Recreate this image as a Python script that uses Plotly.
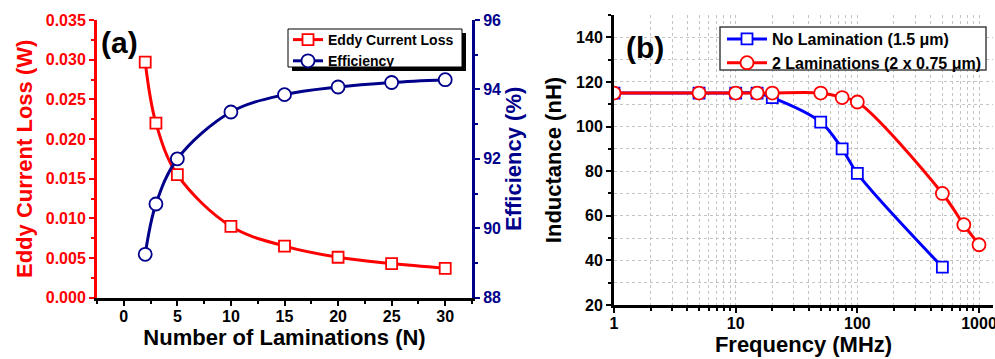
import plotly.graph_objects as go

# ---------------- data ----------------
laminations = [2, 3, 5, 10, 15, 20, 25, 30]
eddy_loss = [0.0297, 0.0220, 0.0155, 0.0090, 0.0065, 0.0051, 0.0043, 0.0037]
efficiency = [89.25, 90.7, 92.0, 93.35, 93.85, 94.07, 94.2, 94.28]

freq_nolam = [1, 5, 10, 15, 20, 50, 75, 100, 500]
ind_nolam = [115, 115, 115, 115, 113, 102, 90, 79, 37]
freq_2lam = [1, 5, 10, 15, 20, 50, 75, 100, 500, 750, 1000]
ind_2lam = [115, 115, 115, 115, 115, 115, 113, 111, 70, 56, 47]

W, H = 995, 359
RED = "#ff0000"
NAVY = "#00008b"
BLUE = "#0000ff"
FONT = "Liberation Sans, Arial, sans-serif"


def px(x):
    return x / W


def py(y):
    return (H - y) / H


fig = go.Figure()

fig.add_trace(go.Scatter(
    x=laminations, y=eddy_loss, name="Eddy Current Loss",
    mode="lines+markers", line=dict(color=RED, width=3, shape="spline"),
    marker=dict(symbol="square", size=11, color="white", line=dict(color=RED, width=1.8)),
    xaxis="x", yaxis="y", legend="legend"))
fig.add_trace(go.Scatter(
    x=laminations, y=efficiency, name="Efficiency",
    mode="lines+markers", line=dict(color=NAVY, width=3, shape="spline"),
    marker=dict(symbol="circle", size=13, color="white", line=dict(color=NAVY, width=1.8)),
    xaxis="x", yaxis="y2", legend="legend"))

fig.add_trace(go.Scatter(
    x=freq_nolam, y=ind_nolam, name="No Lamination (1.5 \u03bcm)",
    mode="lines+markers", line=dict(color=BLUE, width=3, shape="spline"),
    marker=dict(symbol="square", size=11, color="white", line=dict(color=BLUE, width=1.8)),
    xaxis="x2", yaxis="y3", legend="legend2"))
fig.add_trace(go.Scatter(
    x=freq_2lam, y=ind_2lam, name="2 Laminations (2 x 0.75 \u03bcm)",
    mode="lines+markers", line=dict(color=RED, width=3, shape="spline"),
    marker=dict(symbol="circle", size=13, color="white", line=dict(color=RED, width=1.8)),
    xaxis="x2", yaxis="y3", legend="legend2"))

dom_xa = [px(97), px(472)]
dom_ya = [py(297.7), py(20)]
dom_xb = [px(614), px(993)]
dom_yb = [py(305), py(15)]

tickfont = dict(family=FONT, size=16, weight="bold")
titlefont = dict(family=FONT, size=22, weight="bold")
GRID = dict(showgrid=True, gridcolor="#c4c4c4", griddash="dot", gridwidth=1)
TL = 5

fig.update_layout(
    width=W, height=H, margin=dict(l=0, r=0, t=0, b=0, autoexpand=False),
    paper_bgcolor="white", plot_bgcolor="white",
    font=dict(family=FONT, color="black"),
    xaxis=dict(domain=dom_xa, anchor="y", range=[-2.5, 32.5], dtick=5, tick0=0,
               showgrid=False, zeroline=False, showline=True, linecolor="black", linewidth=3,
               ticks="outside", ticklen=TL, tickwidth=2, tickcolor="black", ticklabelstandoff=-3,
               minor=dict(dtick=2.5, tick0=0, ticks="outside", ticklen=3, tickwidth=2, tickcolor="black"),
               tickfont=dict(tickfont, color="black"),
               title=dict(text="Number of Laminations (N)", font=dict(titlefont, color="black"), standoff=0)),
    yaxis=dict(domain=dom_ya, anchor="x", range=[0, 0.035], dtick=0.005, tickformat=".3f",
               showgrid=False, zeroline=False, showline=True, linecolor=RED, linewidth=3,
               ticks="outside", ticklen=TL, tickwidth=2, tickcolor=RED,
               minor=dict(dtick=0.0025, ticks="outside", ticklen=3, tickwidth=2, tickcolor=RED),
               tickfont=dict(tickfont, color=RED),
               title=dict(text="Eddy Current Loss (W)", font=dict(titlefont, color=RED), standoff=8)),
    yaxis2=dict(domain=dom_ya, anchor="x", overlaying="y", side="right", range=[88, 96], dtick=2,
                showgrid=False, zeroline=False, showline=True, linecolor=NAVY, linewidth=3,
                ticks="outside", ticklen=TL, tickwidth=2, tickcolor=NAVY,
                minor=dict(dtick=1, ticks="outside", ticklen=3, tickwidth=2, tickcolor=NAVY),
                tickfont=dict(tickfont, color=NAVY),
                title=dict(text="Efficiency (%)", font=dict(titlefont, color=NAVY), standoff=6)),
    xaxis3=dict(domain=dom_xa, anchor="y", overlaying="x", side="top", matches="x",
                showgrid=False, zeroline=False, showline=True, linecolor="black", linewidth=3,
                ticks="inside", ticklen=6, tickwidth=2, tickcolor="black", showticklabels=False,
                dtick=5, tick0=0,
                minor=dict(dtick=2.5, tick0=0, ticks="inside", ticklen=3, tickwidth=2, tickcolor="black")),
    xaxis2=dict(domain=dom_xb, anchor="y3", type="log", range=[0, 3.115], dtick=1,
                zeroline=False, showline=True, linecolor="black", linewidth=3,
                ticks="outside", ticklen=TL, tickwidth=2, tickcolor="black", ticklabelstandoff=-3,
                ticklabeloverflow="allow",
                minor=dict(dtick="D1", ticks="outside", ticklen=3, tickwidth=2, tickcolor="black", **GRID),
                tickfont=dict(tickfont, color="black"),
                title=dict(text="Frequency (MHz)", font=dict(titlefont, color="black"), standoff=5),
                **GRID),
    yaxis3=dict(domain=dom_yb, anchor="x2", range=[20, 150], dtick=20, tick0=20,
                zeroline=False, showline=True, linecolor="black", linewidth=3,
                ticks="outside", ticklen=TL, tickwidth=2, tickcolor="black",
                minor=dict(dtick=10, tick0=20, ticks="outside", ticklen=3, tickwidth=2, tickcolor="black", **GRID),
                tickfont=dict(tickfont, color="black"),
                title=dict(text="Inductance (nH)", font=dict(titlefont, color="black"), standoff=9),
                **GRID),
    xaxis4=dict(domain=dom_xb, anchor="y3", overlaying="x2", side="top", matches="x2", type="log",
                showgrid=False, zeroline=False, showline=True, linecolor="black", linewidth=3,
                ticks="inside", ticklen=6, tickwidth=2, tickcolor="black", showticklabels=False,
                dtick=1,
                minor=dict(dtick="D1", ticks="inside", ticklen=3, tickwidth=2, tickcolor="black")),
    legend=dict(x=px(288), y=py(24), xanchor="left", yanchor="top",
                bgcolor="rgba(0,0,0,0)", borderwidth=0,
                font=dict(family=FONT, size=14, weight="bold", color="black"),
                itemwidth=30, tracegroupgap=0),
    legend2=dict(x=px(722), y=py(22), xanchor="left", yanchor="top",
                 bgcolor="rgba(0,0,0,0)", borderwidth=0,
                 font=dict(family=FONT, size=16, weight="bold", color="black"),
                 itemwidth=40, tracegroupgap=0),
    showlegend=True,
)

# legend frames (a: with drop shadow, b: plain)
fig.add_shape(type="rect", xref="paper", yref="paper",
              x0=px(292), x1=px(466), y0=py(71), y1=py(33),
              fillcolor="black", line=dict(width=0), layer="above")
fig.add_shape(type="rect", xref="paper", yref="paper",
              x0=px(288), x1=px(462), y0=py(67), y1=py(29),
              fillcolor="white", line=dict(color="black", width=1), layer="above")
fig.add_shape(type="rect", xref="paper", yref="paper",
              x0=px(720), x1=px(986), y0=py(70), y1=py(27),
              fillcolor="white", line=dict(color="#404040", width=1.5), layer="above")

fig.add_annotation(text="(a)", xref="paper", yref="paper", x=px(99), y=py(43),
                   xanchor="left", yanchor="middle", showarrow=False,
                   font=dict(family=FONT, size=30, weight="bold", color="black"))
fig.add_annotation(text="(b)", xref="paper", yref="paper", x=px(624), y=py(48),
                   xanchor="left", yanchor="middle", showarrow=False,
                   font=dict(family=FONT, size=30, weight="bold", color="black"))

fig.write_html("out.html")
